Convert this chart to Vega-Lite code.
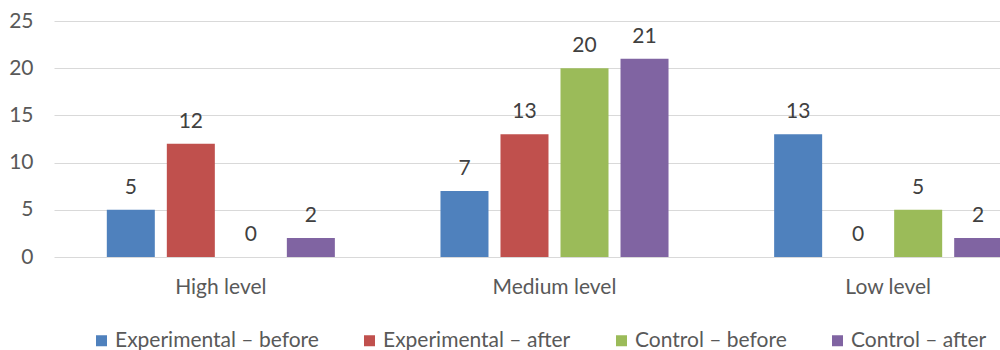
{
  "$schema": "https://vega.github.io/schema/vega-lite/v6.json",
  "width": 1001,
  "height": 236,
  "autosize": {"type": "none"},
  "padding": {"left": 54, "top": 21, "right": 0, "bottom": 93},
  "background": "white",
  "config": {"view": {"stroke": null}, "font": "Lato"},
  "data": {
    "values": [
      {"level": "High level", "series": "Experimental – before", "value": 5},
      {"level": "High level", "series": "Experimental – after", "value": 12},
      {"level": "High level", "series": "Control – before", "value": 0},
      {"level": "High level", "series": "Control – after", "value": 2},
      {"level": "Medium level", "series": "Experimental – before", "value": 7},
      {"level": "Medium level", "series": "Experimental – after", "value": 13},
      {"level": "Medium level", "series": "Control – before", "value": 20},
      {"level": "Medium level", "series": "Control – after", "value": 21},
      {"level": "Low level", "series": "Experimental – before", "value": 13},
      {"level": "Low level", "series": "Experimental – after", "value": 0},
      {"level": "Low level", "series": "Control – before", "value": 5},
      {"level": "Low level", "series": "Control – after", "value": 2}
    ]
  },
  "encoding": {
    "x": {
      "field": "level",
      "type": "nominal",
      "sort": ["High level", "Medium level", "Low level"],
      "scale": {"paddingInner": 0, "paddingOuter": 0},
      "axis": {
        "title": null,
        "labelAngle": 0,
        "domain": false,
        "ticks": false,
        "labelFontSize": 21,
        "labelColor": "#595959",
        "labelPadding": 30,
        "labelBaseline": "middle"
      }
    },
    "xOffset": {
      "field": "series",
      "type": "nominal",
      "sort": ["Experimental – before", "Experimental – after", "Control – before", "Control – after"],
      "scale": {"paddingInner": 0.2, "paddingOuter": 0.88}
    },
    "y": {
      "field": "value",
      "type": "quantitative",
      "scale": {"domain": [0, 25]},
      "axis": {
        "values": [0, 5, 10, 15, 20, 25],
        "title": null,
        "domain": false,
        "ticks": false,
        "gridColor": "#d9d9d9",
        "labelFontSize": 21,
        "labelColor": "#595959",
        "labelPadding": 21
      }
    }
  },
  "layer": [
    {
      "mark": {"type": "bar"},
      "encoding": {
        "color": {
          "field": "series",
          "type": "nominal",
          "scale": {
            "domain": ["Experimental – before", "Experimental – after", "Control – before", "Control – after"],
            "range": ["#4F81BD", "#C0504D", "#9BBB59", "#8064A2"]
          },
          "legend": {
            "title": null,
            "orient": "none",
            "legendX": 37,
            "legendY": 309,
            "direction": "horizontal",
            "symbolType": "square",
            "symbolSize": 121,
            "symbolStrokeWidth": 0,
            "labelFontSize": 21,
            "labelColor": "#595959",
            "labelOffset": 3,
            "labelLimit": 0,
            "columnPadding": 40
          }
        }
      }
    },
    {
      "mark": {"type": "text", "dy": -16, "baseline": "alphabetic", "fontSize": 21, "color": "#404040"},
      "encoding": {"text": {"field": "value", "type": "quantitative"}}
    }
  ]
}
